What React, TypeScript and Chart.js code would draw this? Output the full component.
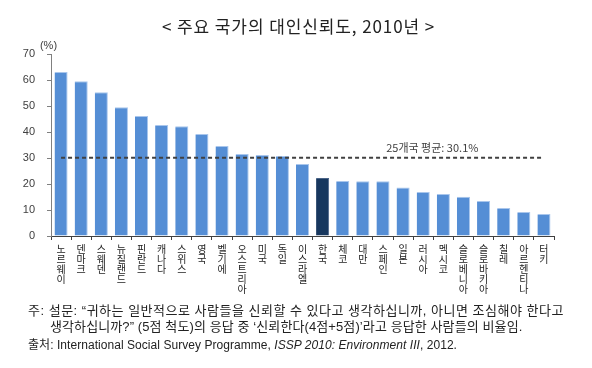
import React, { useEffect, useRef } from "react";
import { Chart, registerables } from "chart.js";

Chart.register(...registerables);

const countries: string[] = [
  "노르웨이", "덴마크", "스웨덴", "뉴질랜드", "핀란드", "캐나다", "스위스", "영국", "벨기에",
  "오스트리아", "미국", "독일", "이스라엘", "한국", "체코", "대만", "스페인", "일본",
  "러시아", "멕시코", "슬로베니아", "슬로바키아", "칠레", "아르헨티나", "터키",
];
const trustValues: number[] = [
  63.1, 59.5, 55.3, 49.5, 46.2, 42.7, 42.2, 39.2, 34.6,
  31.5, 31.2, 30.8, 27.7, 22.3, 21.2, 21.1, 21.1, 18.7,
  16.9, 16.2, 15.1, 13.5, 10.8, 9.2, 8.5,
];
const highlightCountry = "한국";
const averageValue = 30.1;
const averageLabel = "25개국 평균: 30.1%";
const yTicks: number[] = [0, 10, 20, 30, 40, 50, 60, 70];
const unitLabel = "(%)";
const titleText = "< 주요 국가의 대인신뢰도, 2010년 >";
const noteLine1 = "주: 설문: “귀하는 일반적으로 사람들을 신뢰할 수 있다고 생각하십니까, 아니면 조심해야 한다고";
const noteLine2 = "생각하십니까?” (5점 척도)의 응답 중 ‘신뢰한다(4점+5점)’라고 응답한 사람들의 비율임.";

const BLUE = "#558ED5";
const NAVY = "#17375E";

const averagePlugin = {
  id: "averageLine",
  afterDatasetsDraw(chart: any) {
    const { ctx, scales, chartArea } = chart;
    const xs = scales.x;
    const ys = scales.y;
    const y = ys.getPixelForValue(averageValue);
    const x0 = xs.getPixelForValue(0);
    const x1 = xs.getPixelForValue(countries.length - 1);
    ctx.save();
    ctx.strokeStyle = "#404040";
    ctx.lineWidth = 2;
    ctx.setLineDash([4, 3]);
    ctx.beginPath();
    ctx.moveTo(x0, y);
    ctx.lineTo(x1, y);
    ctx.stroke();
    ctx.setLineDash([]);
    ctx.fillStyle = "#404040";
    ctx.font = '11px "Noto Sans CJK KR", "Liberation Sans", sans-serif';
    ctx.textAlign = "center";
    ctx.textBaseline = "middle";
    ctx.fillText(averageLabel, xs.getPixelForValue(18.45), y - 9.5);
    ctx.font = '11px "Liberation Sans", sans-serif';
    ctx.fillText(unitLabel, chartArea.left - 2.5, chartArea.top - 8);
    ctx.restore();
  },
};

function BarChart() {
  const ref = useRef<HTMLCanvasElement | null>(null);
  useEffect(() => {
    if (!ref.current) return;
    const chart = new Chart(ref.current, {
      type: "bar",
      data: {
        labels: countries.map((c) => c.split("")),
        datasets: [
          {
            data: trustValues,
            backgroundColor: countries.map((c) => (c === highlightCountry ? NAVY : BLUE)),
            borderColor: countries.map((c) => (c === highlightCountry ? "#4A6488" : "#A9C6EC")),
            borderWidth: { top: 1, right: 1, left: 0, bottom: 0 },
            borderSkipped: false,
            barPercentage: 0.65,
            categoryPercentage: 1.0,
          },
        ],
      },
      options: {
        animation: false,
        responsive: false,
        maintainAspectRatio: false,
        layout: { padding: { top: 54, right: 38, left: 0, bottom: 0 } },
        plugins: { legend: { display: false }, tooltip: { enabled: false }, title: { display: false } },
        scales: {
          x: {
            offset: true,
            grid: { offset: true, drawOnChartArea: false, drawTicks: true, tickLength: 4, color: "#404040" },
            border: { display: true, color: "#404040", width: 1 },
            ticks: {
              autoSkip: false,
              maxRotation: 0,
              minRotation: 0,
              padding: 4,
              color: "#222",
              font: { family: '"Noto Sans CJK KR", sans-serif', size: 10, lineHeight: 1.0 },
            },
            afterFit: (scale: any) => {
              scale.height = 69;
            },
          },
          y: {
            min: 0,
            max: 70,
            afterBuildTicks: (scale: any) => {
              scale.ticks = yTicks.map((v) => ({ value: v }));
            },
            grid: { drawOnChartArea: false, drawTicks: true, tickLength: 4, color: "#808080" },
            border: { display: true, color: "#808080", width: 1 },
            ticks: {
              padding: 12,
              color: "#404040",
              font: { family: '"Liberation Sans", sans-serif', size: 11 },
            },
            afterFit: (scale: any) => {
              scale.width = 51;
            },
          },
        },
      },
      plugins: [averagePlugin],
    });
    return () => chart.destroy();
  }, []);
  return (
    <canvas
      ref={ref}
      width={592}
      height={305}
      style={{ position: "absolute", left: 0, top: 0, width: 592, height: 305 }}
    />
  );
}

export default function App() {
  const noteFont = '"Liberation Sans", "Noto Sans CJK KR", sans-serif';
  const noteStyle: React.CSSProperties = {
    position: "absolute",
    fontFamily: noteFont,
    fontSize: 13,
    lineHeight: "16px",
    color: "#222",
    whiteSpace: "pre",
  };
  return (
    <div style={{ position: "absolute", left: 0, top: 0, width: 592, height: 368, background: "#fff", overflow: "hidden" }}>
      <BarChart />
      <div
        style={{
          position: "absolute",
          left: 162,
          top: 14,
          fontFamily: '"Noto Sans CJK KR", sans-serif',
          fontSize: 17,
          letterSpacing: "0.9px",
          lineHeight: "24px",
          color: "#222",
          whiteSpace: "pre",
        }}
      >
        {titleText}
      </div>
      <div style={{ ...noteStyle, left: 28, top: 303, letterSpacing: "0.5px" }}>{noteLine1}</div>
      <div style={{ ...noteStyle, left: 50, top: 319, letterSpacing: "0.1px" }}>{noteLine2}</div>
      <div style={{ ...noteStyle, left: 28, top: 337, fontSize: 12, letterSpacing: "0.05px" }}>
        출처: International Social Survey Programme, <i>ISSP 2010: Environment III</i>, 2012.
      </div>
    </div>
  );
}
